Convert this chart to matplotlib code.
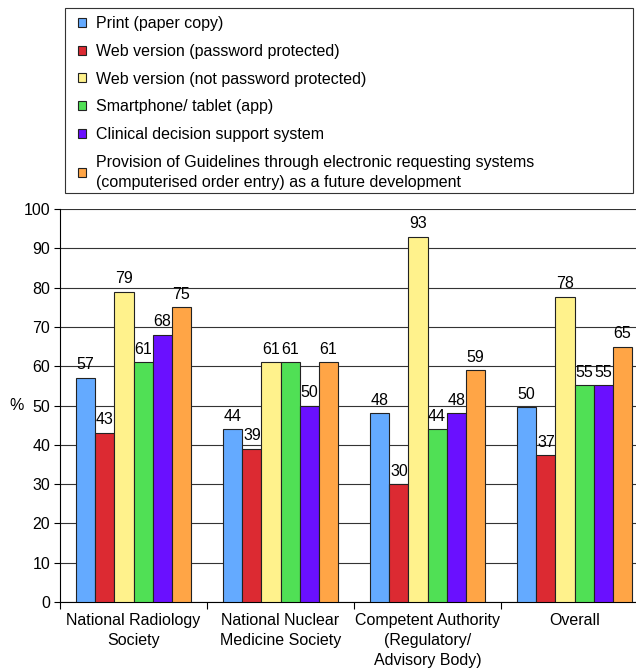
import matplotlib.pyplot as plt
from matplotlib.patches import Patch, Rectangle
import numpy as np

plt.rcParams['font.family'] = ['Liberation Sans', 'DejaVu Sans']
plt.rcParams['font.size'] = 11.5

groups = ["National Radiology\nSociety", "National Nuclear\nMedicine Society",
          "Competent Authority\n(Regulatory/\nAdvisory Body)", "Overall"]
series = ["Print (paper copy)",
          "Web version (password protected)",
          "Web version (not password protected)",
          "Smartphone/ tablet (app)",
          "Clinical decision support system",
          "Provision of Guidelines through electronic requesting systems\n(computerised order entry) as a future development"]
colors = ["#64aaff", "#dc2a32", "#fff28c", "#50e055", "#6a10ff", "#ffa546"]

print_copy = [57, 44, 48, 49.6]
web_pw = [43, 39, 30, 37.3]
web_open = [79, 61, 93, 77.6]
app = [61, 61, 44, 55.2]
cdss = [68, 50, 48, 55.2]
order_entry = [75, 61, 59, 65]
values = [print_copy, web_pw, web_open, app, cdss, order_entry]

fig = plt.figure(figsize=(6.36, 6.70), dpi=100)
ax = fig.add_axes([60 / 636, 1 - 602 / 670, 1 - 60 / 636, (602 - 209) / 670])

x = np.arange(len(groups))
w = 0.13
for k, (vals, c) in enumerate(zip(values, colors)):
    bars = ax.bar(x + (k - 2.5) * w, vals, w, color=c, edgecolor="#222222",
                  linewidth=0.8, zorder=3)
    ax.bar_label(bars, labels=[str(round(v)) for v in vals], padding=4)

ax.set_ylim(0, 100)
ax.set_xlim(-0.5, -0.5 + (636 - 60) / 147)
ax.set_yticks(range(0, 101, 10))
ax.yaxis.grid(True, color="#333333", linewidth=0.8, zorder=0)
ax.set_axisbelow(True)
ax.set_xticks(x)
ax.set_xticklabels(groups, linespacing=1.4)
ax.tick_params(axis="x", length=0, pad=8)
ax.set_xticks(np.arange(len(groups)) - 0.5, minor=True)
ax.tick_params(axis="x", which="minor", length=5, width=0.8)
ax.tick_params(axis="y", length=4, width=0.8, pad=3)
for s in ["top", "right"]:
    ax.spines[s].set_visible(False)
ax.spines["left"].set_linewidth(0.8)
ax.spines["bottom"].set_linewidth(0.8)
ax.set_ylabel("%", rotation=0, va="center")
ax.yaxis.set_label_coords(-0.076, 0.5)

handles = [Patch(facecolor=c, edgecolor="#222222", linewidth=0.8) for c in colors]
leg = fig.legend(handles, series, loc="upper left", bbox_to_anchor=(78 / 636, 1 - 16 / 670),
                 frameon=False, handlelength=0.5, handleheight=0.5, handletextpad=0.6,
                 labelspacing=0.8, borderaxespad=0, borderpad=0)
leg.get_texts()[-1].set_linespacing(1.4)
fig.patches.append(Rectangle((65 / 636, 1 - 193 / 670), 0.995 - 65 / 636, 185 / 670,
                             transform=fig.transFigure, fill=False,
                             edgecolor="#333333", linewidth=0.8))

fig.savefig("out.png", dpi=100)
